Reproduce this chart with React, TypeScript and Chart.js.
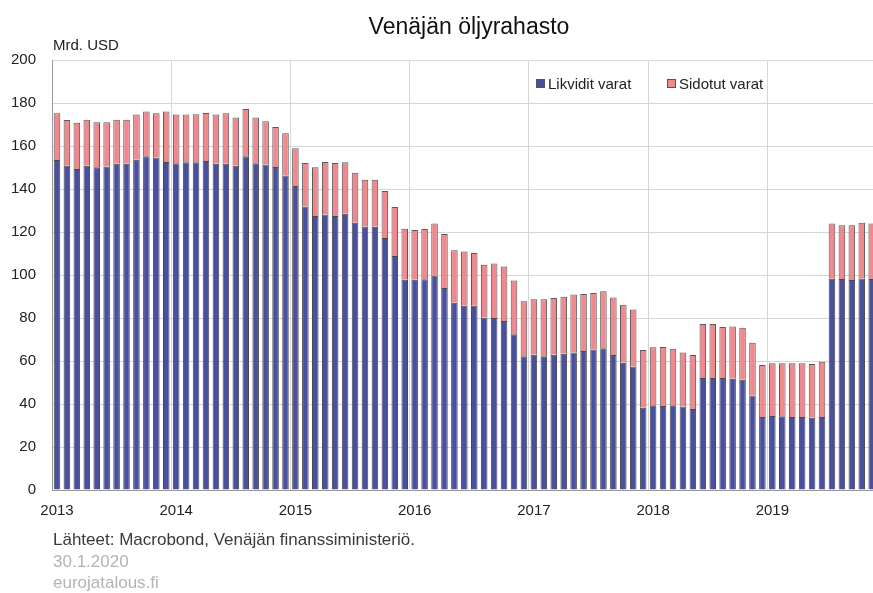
import React, { useEffect, useRef } from 'react';
import { Chart, registerables } from 'chart.js';

Chart.register(...registerables);

const FONT = '"Liberation Sans", Arial, Helvetica, sans-serif';

const chartTitle = 'Venäjän öljyrahasto';
const unitLabel = 'Mrd. USD';
const sourceText = 'Lähteet: Macrobond, Venäjän finanssiministeriö.';
const dateText = '30.1.2020';
const siteText = 'eurojatalous.fi';

const years = ['2013', '2014', '2015', '2016', '2017', '2018', '2019'];
const months = ['01', '02', '03', '04', '05', '06', '07', '08', '09', '10', '11', '12'];
const yTicks = [0, 20, 40, 60, 80, 100, 120, 140, 160, 180, 200];

const seriesNames = ['Likvidit varat', 'Sidotut varat'];
const seriesColors = ['rgb(74, 80, 160)', 'rgb(240, 136, 141)'];

// Monthly values, Jan 2013 – Nov 2019 (bn USD)
const likviditVarat = [
  153.5, 150.8, 149.3, 150.8, 150.1, 150.5, 151.8, 151.8, 153.6, 155.2, 154.6, 152.6,
  152.0, 152.4, 152.4, 153.0, 151.8, 151.8, 150.8, 155.2, 152.0, 151.4, 150.2, 146.3,
  141.4, 131.9, 127.4, 128.1, 127.4, 128.5, 124.3, 122.6, 122.5, 117.2, 108.8, 97.8,
  97.8, 98.0, 99.7, 94.0, 87.1, 85.7, 85.7, 80.2, 80.0, 78.6, 72.4, 62.2,
  62.9, 62.2, 62.9, 63.4, 64.0, 64.7, 65.3, 65.9, 62.8, 59.2, 57.4, 38.3,
  39.4, 39.1, 39.4, 38.8, 37.7, 52.1, 52.1, 52.1, 51.8, 51.3, 43.9, 34.0,
  34.4, 34.3, 34.0, 34.0, 33.6, 34.0, 98.3, 98.1, 97.7, 98.4, 98.1,
];

const sidotutVarat = [
  21.7, 21.3, 21.5, 21.4, 20.9, 20.5, 20.4, 20.4, 21.0, 20.8, 20.6, 23.5,
  22.6, 22.2, 22.4, 22.3, 22.8, 23.4, 22.4, 22.0, 21.2, 20.1, 18.6, 19.6,
  17.5, 20.2, 22.7, 24.5, 24.7, 23.9, 23.3, 21.7, 21.8, 21.9, 22.8, 23.7,
  23.1, 23.4, 24.2, 25.1, 24.4, 25.2, 24.5, 24.6, 25.4, 25.3, 25.0, 25.6,
  25.8, 26.5, 26.4, 26.5, 26.9, 26.5, 26.3, 26.5, 26.7, 27.0, 26.6, 26.8,
  27.0, 27.4, 26.3, 25.1, 25.1, 25.1, 25.1, 23.7, 24.3, 24.2, 24.6, 24.1,
  24.5, 24.7, 25.0, 25.0, 25.0, 25.7, 25.7, 25.0, 25.4, 25.9, 25.8,
];

const categories: string[] = [];
years.forEach((y) => months.forEach((m) => categories.push(`${y}-${m}`)));

const textPlugin = {
  id: 'textPlugin',
  afterDraw(chart: any) {
    const ctx = chart.ctx as CanvasRenderingContext2D;
    ctx.save();
    ctx.textBaseline = 'alphabetic';

    ctx.fillStyle = '#111111';
    ctx.font = `23px ${FONT}`;
    ctx.textAlign = 'center';
    ctx.fillText(chartTitle, 469, 33.5);

    ctx.textAlign = 'left';
    ctx.fillStyle = '#222222';
    ctx.font = `15px ${FONT}`;
    ctx.fillText(unitLabel, 53, 49.5);

    // legend
    const legendX = [536, 667];
    seriesNames.forEach((name, i) => {
      const x = legendX[i];
      ctx.fillStyle = seriesColors[i];
      ctx.fillRect(x, 79, 9, 9);
      ctx.strokeStyle = '#555555';
      ctx.lineWidth = 1;
      ctx.strokeRect(x + 0.5, 79.5, 8, 8);
      ctx.fillStyle = '#222222';
      ctx.font = `15px ${FONT}`;
      ctx.fillText(name, x + 12, 89);
    });

    ctx.font = `17px ${FONT}`;
    ctx.fillStyle = '#3a3a3a';
    ctx.fillText(sourceText, 53, 545);
    ctx.fillStyle = '#b4b4b4';
    ctx.fillText(dateText, 53, 566.5);
    ctx.fillText(siteText, 53, 587.5);
    ctx.restore();
  },
};

export default function App() {
  const canvasRef = useRef<HTMLCanvasElement | null>(null);

  useEffect(() => {
    const canvas = canvasRef.current;
    if (!canvas) return;
    const chart = new Chart(canvas, {
      type: 'bar',
      data: {
        labels: categories,
        datasets: [
          {
            label: seriesNames[0],
            data: likviditVarat,
            backgroundColor: seriesColors[0],
            borderColor: '#4a4a4a',
            borderWidth: 1,
            barPercentage: 0.66,
            categoryPercentage: 1,
          },
          {
            label: seriesNames[1],
            data: sidotutVarat,
            backgroundColor: seriesColors[1],
            borderColor: '#5a5a5a',
            borderWidth: 1,
            barPercentage: 0.66,
            categoryPercentage: 1,
          },
        ],
      },
      options: {
        responsive: false,
        animation: false,
        devicePixelRatio: 1,
        layout: { padding: { left: 0, right: 13.4, top: 60, bottom: 73 } },
        plugins: {
          legend: { display: false },
          title: { display: false },
          tooltip: { enabled: false },
        },
        scales: {
          x: {
            stacked: true,
            offset: true,
            grid: {
              offset: true,
              drawTicks: false,
              color: (c: any) => (c.index % 12 === 0 ? '#d6d6d6' : 'rgba(0,0,0,0)'),
              lineWidth: 1,
            },
            border: { color: '#9a9a9a', width: 1 },
            ticks: {
              autoSkip: false,
              maxRotation: 0,
              minRotation: 0,
              padding: 12,
              color: '#222222',
              font: { family: FONT, size: 15 },
              callback: (_v: any, i: number) => (i % 12 === 0 ? years[i / 12] : ''),
            },
            afterFit: (s: any) => {
              s.height = 30;
            },
          },
          y: {
            stacked: true,
            min: 0,
            max: 200,
            afterBuildTicks: (s: any) => {
              s.ticks = yTicks.map((v) => ({ value: v }));
            },
            grid: { drawTicks: false, color: '#d6d6d6', lineWidth: 1 },
            border: { color: '#9a9a9a', width: 1 },
            ticks: {
              padding: 16,
              color: '#222222',
              font: { family: FONT, size: 15 },
            },
            afterFit: (s: any) => {
              s.width = 52;
            },
          },
        },
      },
      plugins: [textPlugin],
    });
    return () => chart.destroy();
  }, []);

  return (
    <div
      style={{
        position: 'fixed',
        left: 0,
        top: 0,
        width: 873,
        height: 593,
        overflow: 'hidden',
        background: '#ffffff',
      }}
    >
      <canvas ref={canvasRef} width={900} height={593} style={{ display: 'block' }} />
    </div>
  );
}
